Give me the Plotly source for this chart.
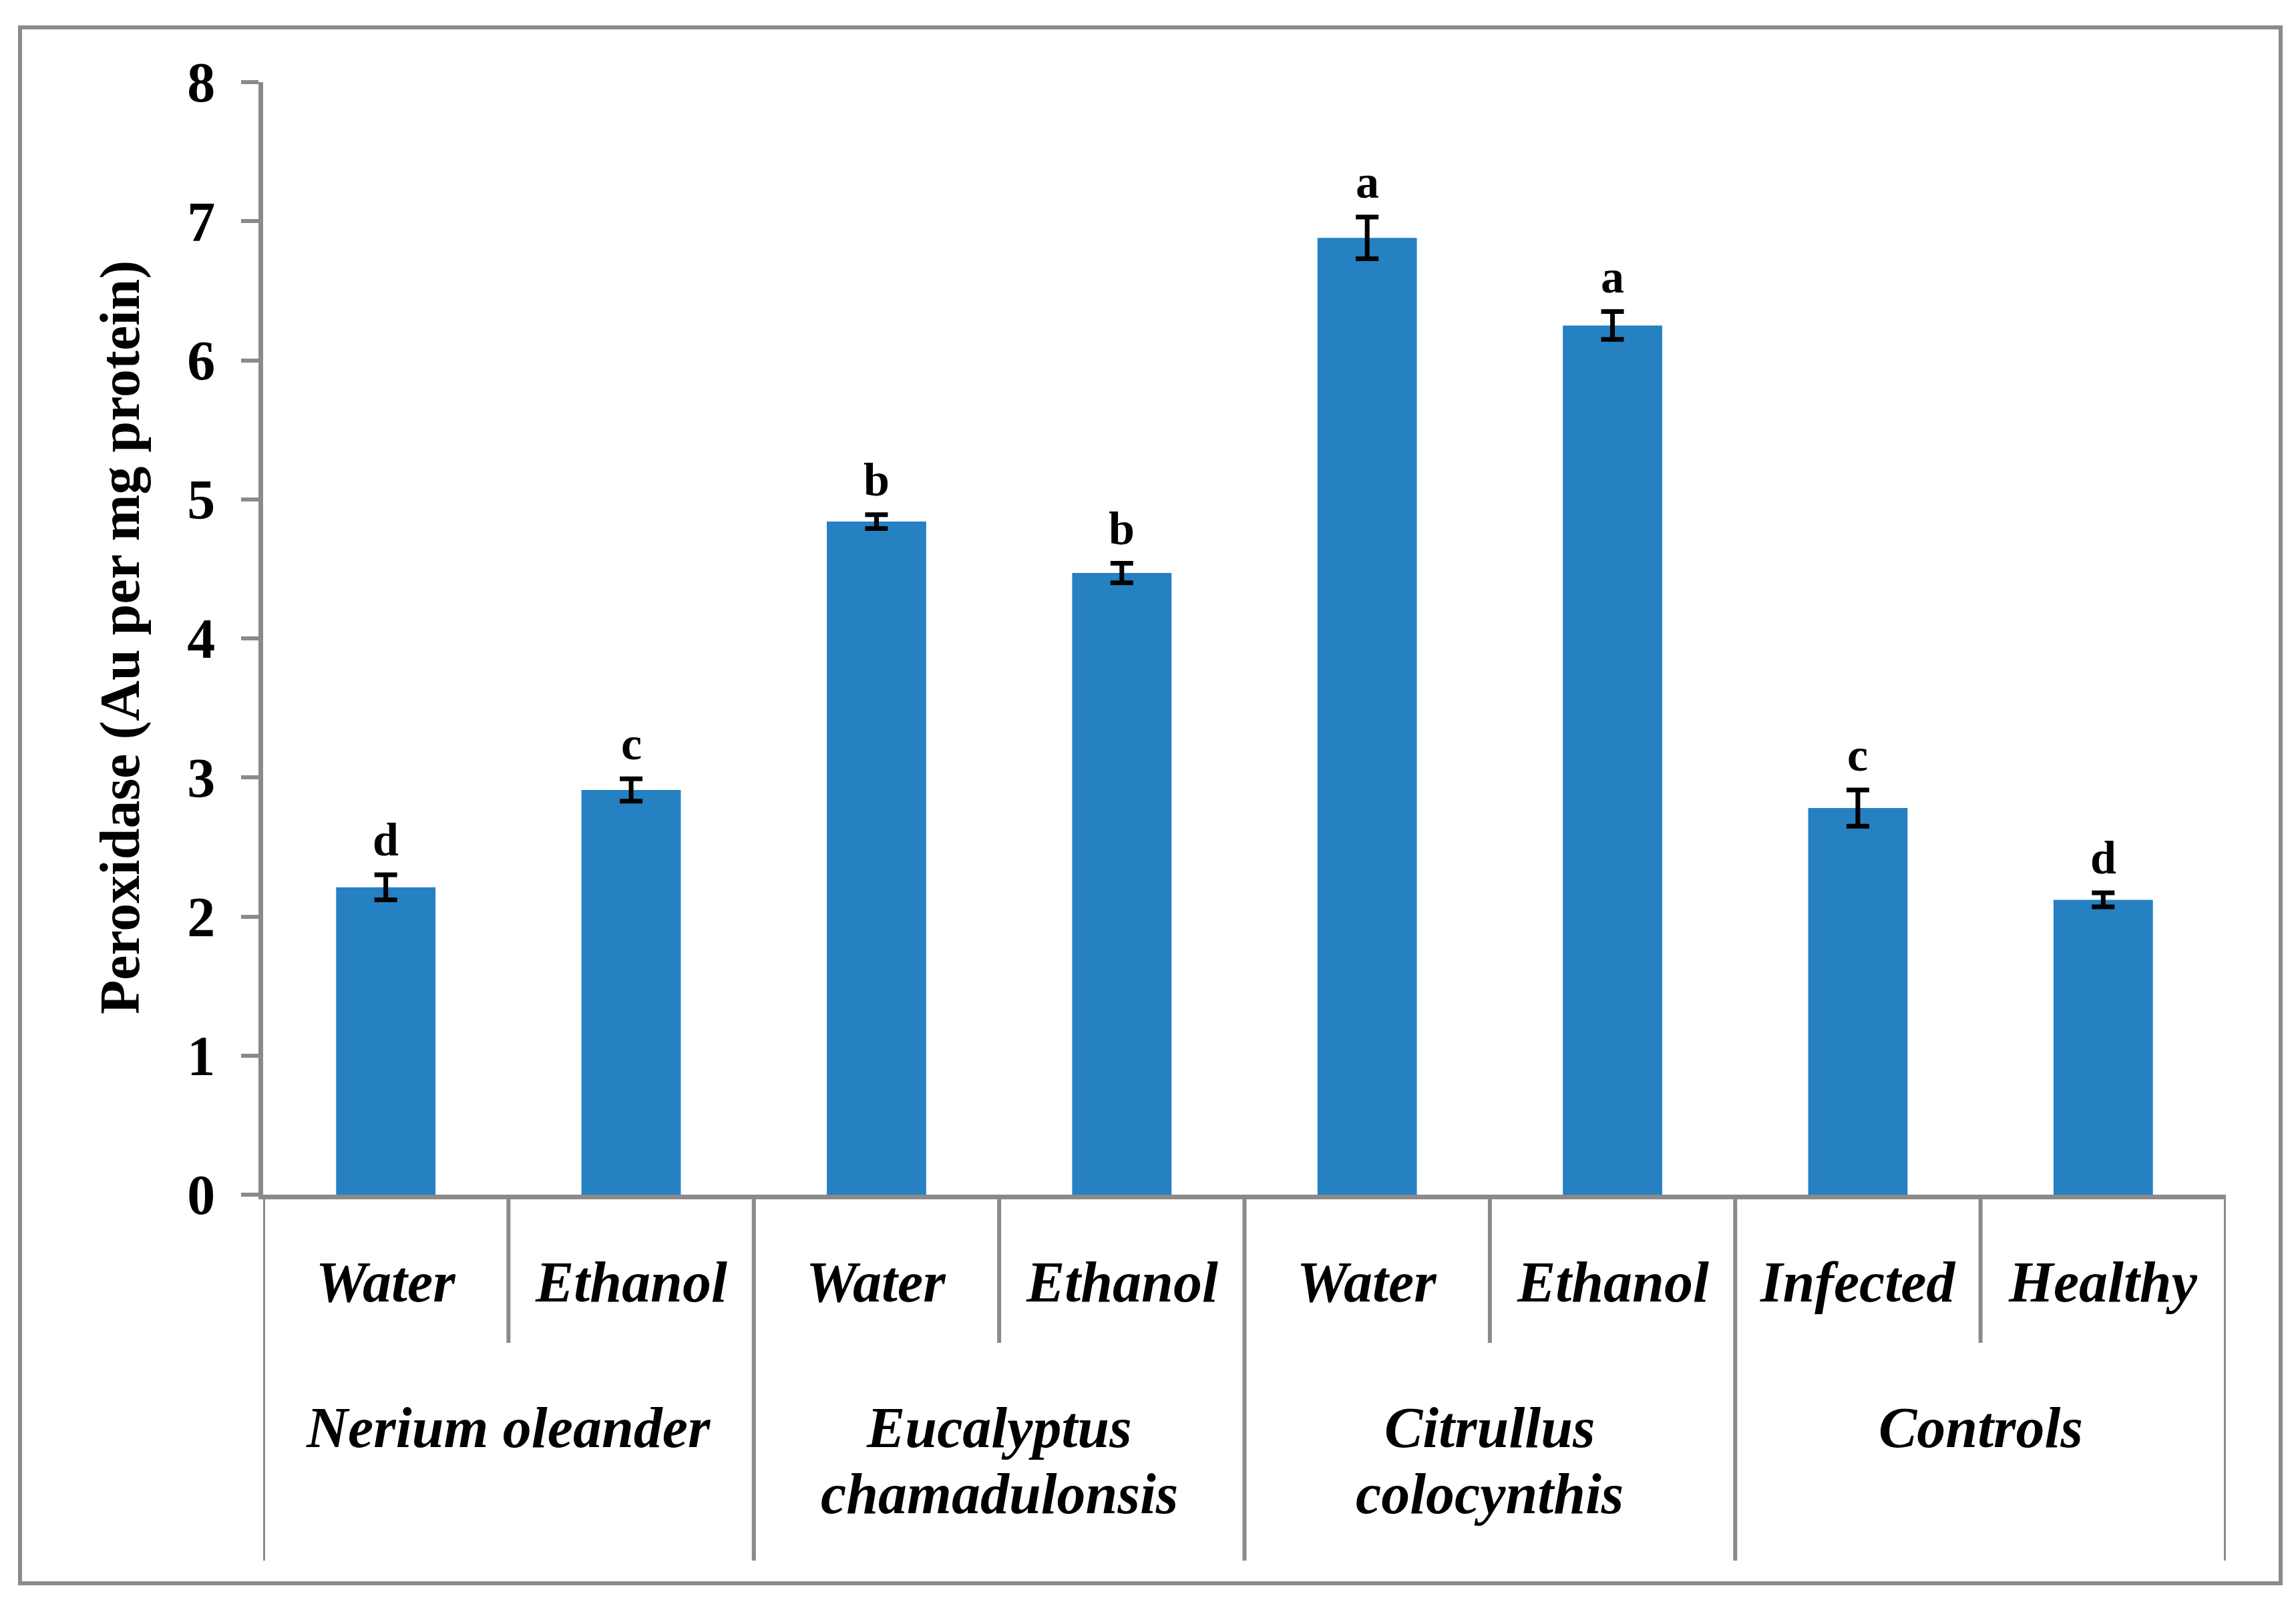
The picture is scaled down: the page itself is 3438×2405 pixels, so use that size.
import plotly.graph_objects as go

# ---- data ----
categories = ["Water", "Ethanol", "Water", "Ethanol", "Water", "Ethanol", "Infected", "Healthy"]
groups = [["Nerium oleander"], ["Eucalyptus", "chamadulonsis"], ["Citrullus", "colocynthis"], ["Controls"]]
values = [2.21, 2.91, 4.84, 4.47, 6.88, 6.25, 2.78, 2.12]
errors = [0.09, 0.08, 0.05, 0.07, 0.15, 0.10, 0.13, 0.05]
letters = ["d", "c", "b", "b", "a", "a", "c", "d"]
y_ticks = [0, 1, 2, 3, 4, 5, 6, 7, 8]

W, H = 3438, 2405
L, R, T, B = 386, 113, 115, 624
PH = H - T - B
PW = W - L - R
GRAY = "#8a8a8a"
BLUE = "rgb(37,129,193)"
FONT = "Liberation Serif, Times New Roman, serif"

xs = list(range(len(categories)))

fig = go.Figure()
fig.add_trace(go.Bar(
    x=xs, y=values,
    marker=dict(color=BLUE, line=dict(width=0)),
    width=0.405,
    error_y=dict(type="data", array=errors, visible=True, color="black",
                 thickness=7, width=17),
    showlegend=False,
))

def py(pix):
    return (H - B - pix) / PH

annotations = []
# significance letters
for x, v, e, s in zip(xs, values, errors, letters):
    annotations.append(dict(x=x, y=v + e, xref="x", yref="y", text=f"<b>{s}</b>",
                            showarrow=False, yanchor="bottom", yshift=12,
                            font=dict(family=FONT, size=70, color="black")))
# category labels
for x, c in zip(xs, categories):
    annotations.append(dict(x=x, y=py(1912), xref="x", yref="paper", text=f"<b><i>{c}</i></b>",
                            showarrow=False, yanchor="middle",
                            font=dict(family=FONT, size=86, color="black")))
# group labels (top-aligned lines)
line_y = [2130, 2229]
for gi, g in enumerate(groups):
    for li, line in enumerate(g):
        annotations.append(dict(x=2 * gi + 0.5, y=py(line_y[li]), xref="x", yref="paper",
                                text=f"<b><i>{line}</i></b>", showarrow=False, yanchor="middle",
                                font=dict(family=FONT, size=86, color="black")))
# y title
annotations.append(dict(x=(172 - L) / PW, y=py(947), xref="paper", yref="paper",
                        text="<b>Peroxidase (Au per mg protein)</b>", textangle=-90,
                        showarrow=False, xanchor="center", yanchor="middle",
                        font=dict(family=FONT, size=84, color="black")))

shapes = []
# short separators within groups
for xb in [0.5, 2.5, 4.5, 6.5]:
    shapes.append(dict(type="line", xref="x", yref="paper", x0=xb, x1=xb, y0=0, y1=py(2003),
                       line=dict(color=GRAY, width=6)))
# long separators between groups
for xb in [-0.5, 1.5, 3.5, 5.5, 7.5]:
    shapes.append(dict(type="line", xref="x", yref="paper", x0=xb, x1=xb, y0=0, y1=py(2329),
                       line=dict(color=GRAY, width=6)))
# outer border
shapes.append(dict(type="rect", xref="paper", yref="paper",
                   x0=(22 - L) / PW, x1=(3407 - L) / PW, y0=py(2363), y1=py(33),
                   line=dict(color=GRAY, width=6), fillcolor="rgba(0,0,0,0)", layer="below"))

fig.update_layout(
    width=W, height=H,
    margin=dict(l=L, r=R, t=T, b=B, pad=0),
    plot_bgcolor="white", paper_bgcolor="white",
    annotations=annotations, shapes=shapes,
    xaxis=dict(range=[-0.5, 7.5], showline=True, linecolor=GRAY, linewidth=7,
               showticklabels=False, ticks="", showgrid=False, zeroline=False),
    yaxis=dict(range=[0, 8], tickvals=y_ticks, ticktext=[f"<b>{t}</b>" for t in y_ticks],
               showline=True, linecolor=GRAY, linewidth=7,
               ticks="outside", ticklen=26, tickwidth=6, tickcolor=GRAY,
               ticklabelstandoff=22,
               showgrid=False, zeroline=False,
               tickfont=dict(family=FONT, size=84, color="black")),
)

fig.write_html("out.html")
